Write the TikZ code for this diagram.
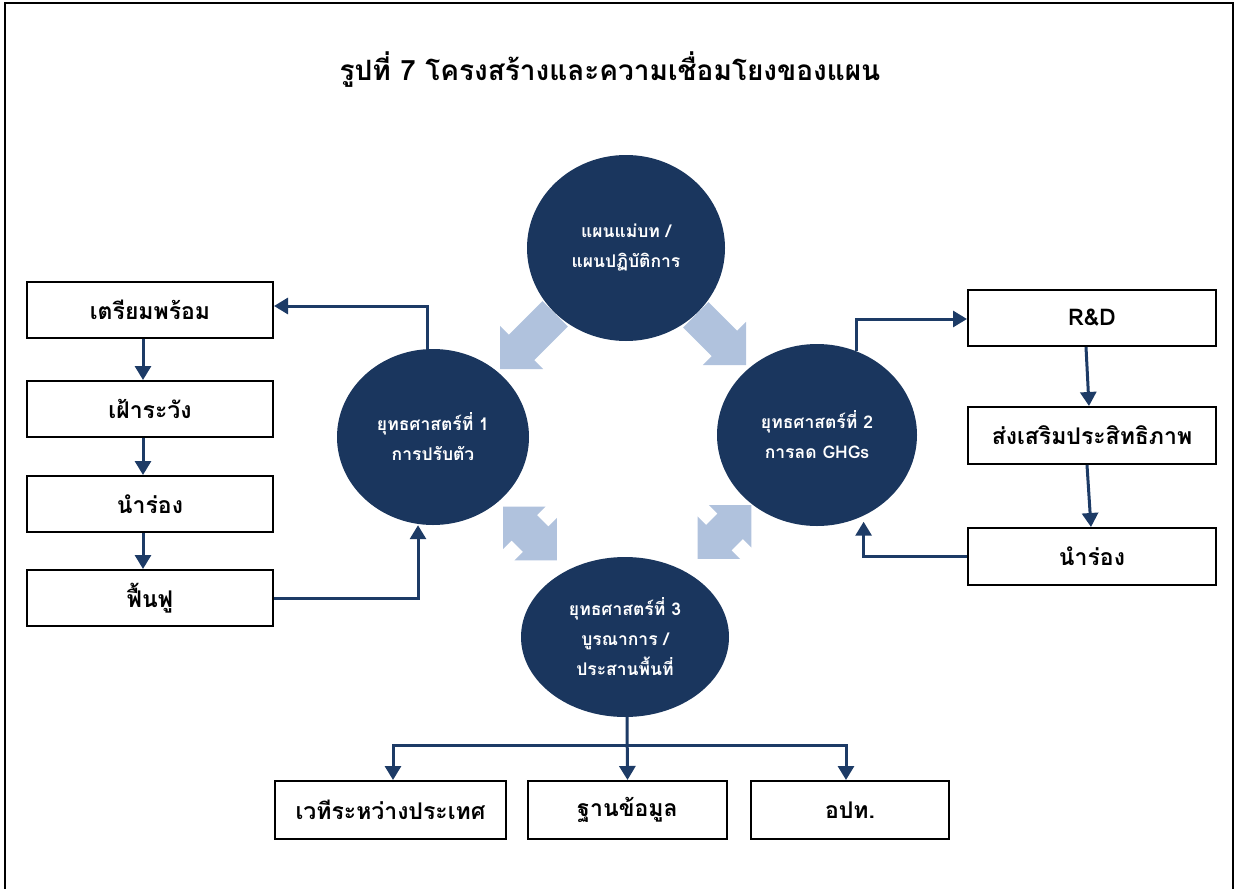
\documentclass[tikz,border=0pt]{standalone}
\usepackage{fontspec}
\setmainfont[Script=Thai]{Loma}
\newfontfamily\thai[Script=Thai]{Loma}
\usetikzlibrary{shapes.geometric,arrows.meta,calc}
\definecolor{navy}{HTML}{1A365E}
\definecolor{lineblue}{HTML}{1D3B66}
\definecolor{lightblue}{HTML}{B0C2DD}
\tikzset{
  circ/.style={ellipse, fill=navy, draw=none, text=white, align=center, inner sep=0pt,
    font=\thai\bfseries\fontsize{17.5}{30}\selectfont},
  boxnode/.style={draw=black, line width=2pt, fill=white, inner sep=0pt,
    font=\thai\bfseries\fontsize{23}{26}\selectfont},
  conn/.style={draw=lineblue, line width=3pt, -{Triangle[width=16pt,length=14pt]}},
  blk/.style={fill=lightblue, draw=none}
}
\begin{document}
\begin{tikzpicture}[x=1pt,y=-1pt]
\useasboundingbox (0,0) rectangle (1235,889);
\draw[line width=2pt] (5,889) -- (5,3) -- (1233,3) -- (1233,889);
\node[font=\thai\bfseries\fontsize{28}{32}\selectfont] (title) at (610,70) {รูปที่ 7  โครงสร้างและความเชื่อมโยงของแผน};

% light block arrows
\begin{scope}[shift={(500,369)},rotate=225]
  \fill[blk] (0,0) -- (-30.5,30.5) -- (-30.5,18) -- (-78,18) -- (-78,-18) -- (-30.5,-18) -- (-30.5,-30.5) -- cycle;
\end{scope}
\begin{scope}[shift={(746,365)},rotate=315]
  \fill[blk] (0,0) -- (-30.5,30.5) -- (-30.5,18) -- (-71,18) -- (-71,-18) -- (-30.5,-18) -- (-30.5,-30.5) -- cycle;
\end{scope}
\begin{scope}[shift={(530,533.5)},rotate=135]
  \fill[blk] (38,0) -- (8,30) -- (8,18) -- (-8,18) -- (-8,30) -- (-38,0) -- (-8,-30) -- (-8,-18) -- (8,-18) -- (8,-30) -- cycle;
\end{scope}
\begin{scope}[shift={(724.5,532)},rotate=45]
  \fill[blk] (38,0) -- (8,30) -- (8,18) -- (-8,18) -- (-8,30) -- (-38,0) -- (-8,-30) -- (-8,-18) -- (8,-18) -- (8,-30) -- cycle;
\end{scope}

% circles
\node[circ, minimum width=198pt, minimum height=186pt] (T) at (626,248) {แผนแม่บท /\\แผนปฏิบัติการ};
\node[circ, minimum width=192pt, minimum height=176pt] (L) at (433,437) {ยุทธศาสตร์ที่ 1\\การปรับตัว};
\node[circ, minimum width=200pt, minimum height=182pt] (R) at (817,435) {ยุทธศาสตร์ที่ 2\\การลด GHGs};
\node[circ, minimum width=208pt, minimum height=160pt] (B) at (625,637) {ยุทธศาสตร์ที่ 3\\บูรณาการ /\\ประสานพื้นที่};

% left boxes
\node[boxnode, minimum width=246pt, minimum height=56pt] (b1) at (150,310) {เตรียมพร้อม};
\node[boxnode, minimum width=246pt, minimum height=56pt] (b2) at (150,409) {เฝ้าระวัง};
\node[boxnode, minimum width=246pt, minimum height=56pt] (b3) at (150,504) {นำร่อง};
\node[boxnode, minimum width=246pt, minimum height=56pt] (b4) at (150,598) {ฟื้นฟู};

% right boxes
\node[boxnode, minimum width=248pt, minimum height=56pt] (rd) at (1092,318) {R\&D};
\node[boxnode, minimum width=248pt, minimum height=57pt] (rs) at (1092,435.5) {ส่งเสริมประสิทธิภาพ};
\node[boxnode, minimum width=248pt, minimum height=57pt] (rn) at (1092,556.5) {นำร่อง};

% bottom boxes
\node[boxnode, minimum width=231pt, minimum height=58pt] (bb1) at (390.5,810) {เวทีระหว่างประเทศ};
\node[boxnode, minimum width=199pt, minimum height=58pt] (bb2) at (627.5,810) {ฐานข้อมูล};
\node[boxnode, minimum width=198pt, minimum height=58pt] (bb3) at (850,810) {อปท.};

% connectors left
\draw[conn] ([xshift=-6pt]L.north) |- ([yshift=4pt]b1.east);
\draw[conn] (b4.east) -| ([xshift=-15pt]L.south);
\draw[conn] ([xshift=-7pt]b1.south) -- ([xshift=-7pt]b2.north);
\draw[conn] ([xshift=-7pt]b2.south) -- ([xshift=-7pt]b3.north);
\draw[conn] ([xshift=-7pt]b3.south) -- ([xshift=-7pt]b4.north);

% connectors right
\draw[conn] (R.65) |- ([yshift=-1pt]rd.west);
\draw[conn] (rn.west) -| ([yshift=-6pt]R.-60);
\draw[conn] ([xshift=-6pt]rd.south) -- ([xshift=-3pt]rs.north);
\draw[conn] ([xshift=-5pt]rs.south) -- ([xshift=-1pt]rn.north);

% connectors bottom
\coordinate (jm) at (627,745);
\draw[conn] ([xshift=2pt]B.south) -- (bb2.north);
\draw[conn] (jm) -| ([xshift=2.5pt]bb1.north);
\draw[conn] (jm) -| ([xshift=-4pt]bb3.north);
\end{tikzpicture}
\end{document}
